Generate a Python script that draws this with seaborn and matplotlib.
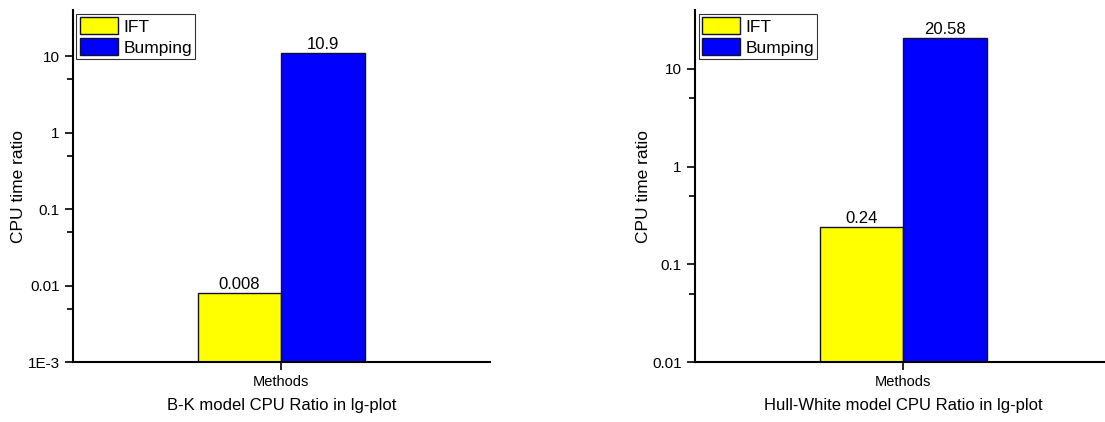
"""
CPU time ratio of IFT vs Bumping, log-scale bar charts for two models
"""
import numpy as np
import pandas as pd
import matplotlib
matplotlib.use('Agg')
import matplotlib.pyplot as plt
import matplotlib.ticker as mticker
import seaborn as sns

# data
methods = ['IFT', 'Bumping']
bk_ratio = [0.008, 10.9]
hw_ratio = [0.24, 20.58]
bk_labels = ['0.008', '10.9']
hw_labels = ['0.24', '20.58']
panel_titles = ['B-K model CPU Ratio in lg-plot', 'Hull-White model CPU Ratio in lg-plot']
colors = ['#FFFF00', '#0000FF']

sns.set_style('ticks')
plt.rcParams['font.family'] = ['Liberation Sans', 'DejaVu Sans']
plt.rcParams['text.color'] = 'black'
plt.rcParams['axes.labelcolor'] = 'black'
plt.rcParams['xtick.color'] = 'black'
plt.rcParams['ytick.color'] = 'black'


def fmt_tick(v, pos):
    if v < 0.005:
        return f'1E{int(round(np.log10(v)))}'
    return f'{v:g}'


fig = plt.figure(figsize=(11.05, 4.22), dpi=100)
axes = [fig.add_axes([0.066, 0.142, 0.377, 0.834]),
        fig.add_axes([0.629, 0.142, 0.377, 0.834])]

panels = [(bk_ratio, bk_labels, 1e-3), (hw_ratio, hw_labels, 1e-2)]

for ax, (vals, labs, ymin), title in zip(axes, panels, panel_titles):
    df = pd.DataFrame({'group': ['Methods'] * len(methods),
                       'method': methods,
                       'ratio': vals})
    ax.set_yscale('log')
    sns.barplot(data=df, x='group', y='ratio', hue='method', hue_order=methods,
                palette=colors, width=0.4, edgecolor='#101030', linewidth=1.0,
                saturation=1, ax=ax)
    for cont, lab in zip(ax.containers, labs):
        ax.bar_label(cont, labels=[lab], fontsize=12, padding=1, color='black')

    ax.set_xlim(-0.5, 0.5)
    ax.set_ylim(ymin, 40)
    ax.yaxis.set_major_locator(mticker.LogLocator(base=10, numticks=10))
    ax.yaxis.set_minor_locator(mticker.LogLocator(base=10, subs=[5], numticks=10))
    ax.yaxis.set_major_formatter(mticker.FuncFormatter(fmt_tick))
    ax.yaxis.set_minor_formatter(mticker.NullFormatter())

    ax.tick_params(axis='both', which='major', direction='out', length=6,
                   width=1.2, labelsize=11, color='black', labelcolor='black')
    ax.tick_params(axis='y', which='minor', direction='out', length=4, width=1.2,
                   color='black')
    ax.tick_params(axis='x', labelsize=10.5, pad=3)

    for side in ['top', 'right']:
        ax.spines[side].set_visible(False)
    for side in ['left', 'bottom']:
        ax.spines[side].set_linewidth(1.5)
        ax.spines[side].set_color('black')

    ax.set_ylabel('CPU time ratio', fontsize=12.5, labelpad=1)
    ax.set_xlabel(title, fontsize=12, labelpad=7)

    handles, _ = ax.get_legend_handles_labels()
    leg = ax.legend(handles, methods, loc='upper left', fontsize=12.5,
                    frameon=True, fancybox=False, edgecolor='black',
                    handlelength=2.2, handleheight=1.15, labelspacing=0.2,
                    handletextpad=0.3, borderpad=0.2, borderaxespad=0.2,
                    title=None)
    leg.get_frame().set_linewidth(0.8)

plt.savefig('out.png', dpi=100, facecolor='white')
